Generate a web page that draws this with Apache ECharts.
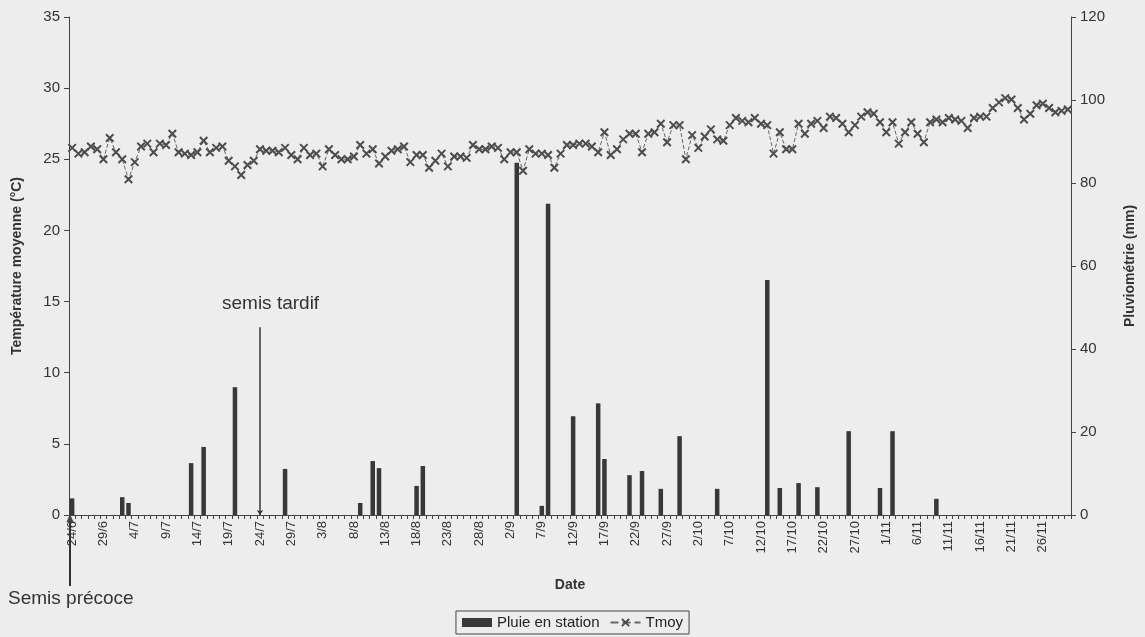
<!DOCTYPE html>
<html>
<head>
<meta charset="utf-8">
<script src="https://cdn.jsdelivr.net/npm/echarts@6/dist/echarts.min.js"></script>
<style>
  html, body { margin: 0; padding: 0; background: #ededed; }
  #chart { width: 1145px; height: 637px; }
</style>
</head>
<body>
<div id="chart"></div>
<script>
// Categories: daily dates from 24/6 to 30/11
const startDay = 24, startMonth = 6;
const monthLengths = {6: 30, 7: 31, 8: 31, 9: 30, 10: 31, 11: 30};
const dates = [];
(function () {
  let d = startDay, m = startMonth;
  while (m !== 12) {
    dates.push(d + '/' + m);
    d++;
    if (d > monthLengths[m]) { d = 1; m++; }
  }
})();

// Mean temperature (°C), one value per day
const tmoy = [
  25.8, 25.4, 25.5, 25.9, 25.7, 25.0, 26.5, 25.5, 25.0, 23.6,
  24.8, 25.9, 26.1, 25.5, 26.1, 26.0, 26.8, 25.5, 25.4, 25.3,
  25.5, 26.3, 25.5, 25.8, 25.9, 24.9, 24.5, 23.9, 24.6, 24.9,
  25.7, 25.6, 25.6, 25.5, 25.8, 25.3, 25.0, 25.8, 25.3, 25.4,
  24.5, 25.7, 25.3, 25.0, 25.0, 25.2, 26.0, 25.4, 25.7, 24.7,
  25.2, 25.6, 25.7, 25.9, 24.8, 25.3, 25.3, 24.4, 24.9, 25.4,
  24.5, 25.2, 25.2, 25.1, 26.0, 25.7, 25.7, 25.9, 25.8, 25.0,
  25.5, 25.5, 24.2, 25.7, 25.4, 25.4, 25.3, 24.4, 25.4, 26.0,
  26.0, 26.1, 26.1, 25.9, 25.5, 26.9, 25.3, 25.7, 26.4, 26.8,
  26.8, 25.5, 26.8, 26.9, 27.5, 26.2, 27.4, 27.4, 25.0, 26.7,
  25.8, 26.6, 27.1, 26.4, 26.3, 27.4, 27.9, 27.7, 27.6, 27.9,
  27.5, 27.4, 25.4, 26.9, 25.7, 25.7, 27.5, 26.8, 27.5, 27.7,
  27.2, 28.0, 27.9, 27.5, 26.9, 27.4, 28.0, 28.3, 28.2, 27.6,
  26.9, 27.6, 26.1, 26.9, 27.6, 26.8, 26.2, 27.6, 27.8, 27.6,
  27.9, 27.8, 27.7, 27.2, 27.9, 28.0, 28.0, 28.6, 29.0, 29.3,
  29.2, 28.6, 27.8, 28.2, 28.8, 28.9, 28.6, 28.3, 28.4, 28.5
];

// Rain events (mm) on given dates; other days are 0
const rainDates = ['24/6','2/7','3/7','13/7','15/7','20/7','28/7','9/8','11/8','12/8',
  '18/8','19/8','3/9','7/9','8/9','12/9','16/9','17/9','21/9','23/9',
  '26/9','29/9','5/10','13/10','15/10','18/10','21/10','26/10','31/10','2/11','9/11'];
const rainMm = [4.0, 4.3, 2.9, 12.5, 16.4, 30.8, 11.1, 2.9, 13.0, 11.3,
  7.0, 11.8, 84.9, 2.2, 75.0, 23.8, 26.9, 13.5, 9.6, 10.6,
  6.3, 19.0, 6.3, 56.6, 6.5, 7.7, 6.7, 20.2, 6.5, 20.2, 3.9];

const rain = dates.map(function (d) {
  const k = rainDates.indexOf(d);
  return k >= 0 ? rainMm[k] : 0;
});

const sowingLate = '24/7';
const sowingLateTop = 13.2;

const FONT = 'Liberation Sans, Arial, sans-serif';
const chart = echarts.init(document.getElementById('chart'), null, { renderer: 'canvas' });

const option = {
  backgroundColor: '#ededed',
  animation: false,
  textStyle: { fontFamily: FONT },
  grid: { left: 69, right: 71, top: 17, bottom: 122 },
  legend: {
    left: 'center',
    top: 611,
    padding: [4, 6, 4, 6],
    borderColor: '#444',
    borderWidth: 1,
    itemGap: 10,
    itemWidth: 30,
    itemHeight: 9,
    textStyle: { fontSize: 15, color: '#222', fontFamily: FONT },
    data: [
      { name: 'Pluie en station', icon: 'rect' },
      { name: 'Tmoy' }
    ]
  },
  xAxis: {
    type: 'category',
    data: dates,
    boundaryGap: true,
    name: 'Date',
    nameLocation: 'middle',
    nameGap: 63,
    nameTextStyle: { fontSize: 14, fontWeight: 'bold', color: '#333', fontFamily: FONT },
    axisLine: { lineStyle: { color: '#444', width: 1 } },
    axisTick: { show: true, interval: 0, length: 4, lineStyle: { color: '#444' } },
    axisLabel: { interval: 4, rotate: 90, fontSize: 13, color: '#333', margin: 6, fontFamily: FONT },
    splitLine: { show: false }
  },
  yAxis: [
    {
      type: 'value',
      min: 0, max: 35, interval: 5,
      position: 'left',
      name: 'Température moyenne (°C)',
      nameLocation: 'middle',
      nameRotate: 90,
      nameGap: 45,
      nameTextStyle: { fontSize: 14, fontWeight: 'bold', color: '#333', fontFamily: FONT },
      axisLine: { show: true, lineStyle: { color: '#444', width: 1 } },
      axisTick: { show: true, length: 5, lineStyle: { color: '#444' } },
      axisLabel: { fontSize: 15, color: '#333', margin: 9, fontFamily: FONT },
      splitLine: { show: false }
    },
    {
      type: 'value',
      min: 0, max: 120, interval: 20,
      position: 'right',
      name: 'Pluviométrie (mm)',
      nameLocation: 'middle',
      nameRotate: 90,
      nameGap: 52,
      nameTextStyle: { fontSize: 14, fontWeight: 'bold', color: '#333', fontFamily: FONT },
      axisLine: { show: true, lineStyle: { color: '#444', width: 1 } },
      axisTick: { show: true, length: 5, lineStyle: { color: '#444' } },
      axisLabel: { fontSize: 15, color: '#333', margin: 9, fontFamily: FONT },
      splitLine: { show: false }
    }
  ],
  series: [
    {
      name: 'Pluie en station',
      type: 'bar',
      yAxisIndex: 1,
      data: rain,
      barWidth: 4.5,
      itemStyle: { color: '#383838' }
    },
    {
      name: 'Tmoy',
      type: 'line',
      yAxisIndex: 0,
      data: tmoy,
      showAllSymbol: true,
      symbol: 'path://M0,0L10,10M10,0L0,10',
      symbolSize: 7.5,
      itemStyle: { color: '#4d4d4d', borderColor: '#4d4d4d', borderWidth: 2 },
      lineStyle: { color: '#666', width: 1, type: 'dashed' },
      markLine: {
        silent: true,
        symbol: ['none', 'arrow'],
        symbolSize: 5,
        label: { show: false },
        lineStyle: { color: '#333', width: 1.5, type: 'solid' },
        data: [[{ coord: [sowingLate, sowingLateTop] }, { coord: [sowingLate, 0] }]]
      }
    }
  ],
  graphic: [
    {
      type: 'text', left: 222, top: 294,
      style: { text: 'semis tardif', fontSize: 19, fill: '#333', fontFamily: FONT }
    },
    {
      type: 'text', left: 8, top: 589,
      style: { text: 'Semis précoce', fontSize: 19, fill: '#333', fontFamily: FONT }
    },
    {
      type: 'line', shape: { x1: 70, y1: 520, x2: 70, y2: 586 },
      style: { stroke: '#333', lineWidth: 2 }
    },
    {
      type: 'polygon', shape: { points: [[70, 514], [66.5, 522], [73.5, 522]] },
      style: { fill: '#444' }
    }
  ]
};

chart.setOption(option);
</script>
</body>
</html>
